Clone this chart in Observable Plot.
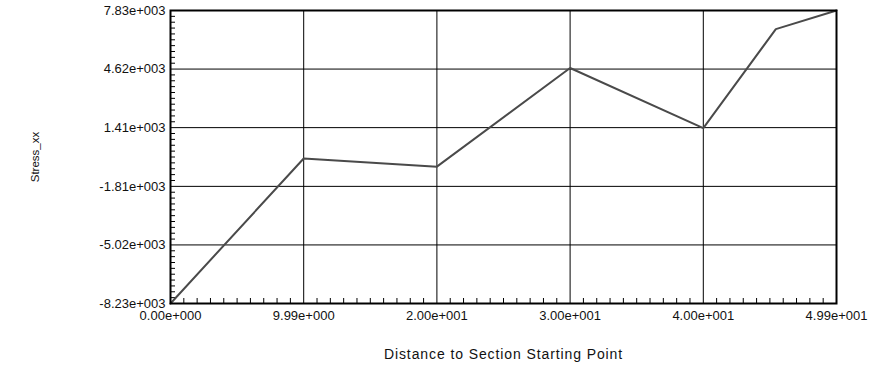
<!DOCTYPE html>
<html>
<head>
<meta charset="utf-8">
<script src="https://cdn.jsdelivr.net/npm/d3@7"></script>
<script src="https://cdn.jsdelivr.net/npm/@observablehq/plot@0.6"></script>
<style>
  html, body { margin: 0; padding: 0; background: #fff; }
  #chart svg { display: block; }
</style>
</head>
<body>
<div id="chart"></div>
<script>
// Stress_xx sampled along the section line
const distance = [0, 9.99, 19.98, 29.97, 39.96, 45.4, 49.95];
const stressXX = [-8230, -280, -730, 4680, 1380, 6810, 7830];

// Axis ticks and their printed labels
const xTickValues = [0, 9.99, 19.98, 29.97, 39.96, 49.95];
const xTickLabels = ["0.00e+000", "9.99e+000", "2.00e+001", "3.00e+001", "4.00e+001", "4.99e+001"];
const yTickValues = [-8230, -5020, -1810, 1410, 4620, 7830];
const yTickLabels = ["-8.23e+003", "-5.02e+003", "-1.81e+003", "1.41e+003", "4.62e+003", "7.83e+003"];

const xLabel = "Distance to Section Starting Point";
const yLabel = "Stress_xx";

const W = 869, H = 367;
const margin = {top: 10, right: 33, bottom: 64, left: 170};
const plotW = W - margin.left - margin.right;
const plotH = H - margin.top - margin.bottom;
const minorLen = 5;

const xDomain = [xTickValues[0], xTickValues[xTickValues.length - 1]];
const yDomain = [yTickValues[0], yTickValues[yTickValues.length - 1]];

// ten minor divisions between consecutive major ticks
function minorTicks(major) {
  const out = [];
  for (let i = 0; i < major.length - 1; i++) {
    const a = major[i], b = major[i + 1];
    for (let k = 1; k < 10; k++) out.push(a + (b - a) * k / 10);
  }
  return out;
}
const xMinor = minorTicks(xTickValues);
const yMinor = minorTicks(yTickValues);

const data = distance.map((d, i) => ({distance: d, stress: stressXX[i]}));

const fontFamily = "'Liberation Sans', Arial, Helvetica, sans-serif";

const chart = Plot.plot({
  width: W,
  height: H,
  marginTop: margin.top,
  marginRight: margin.right,
  marginBottom: margin.bottom,
  marginLeft: margin.left,
  style: {fontFamily, fontSize: "13px", color: "#111", background: "#fff", overflow: "visible"},
  x: {domain: xDomain, axis: null},
  y: {domain: yDomain, axis: null},
  marks: [
    // grid
    Plot.ruleX(xTickValues.slice(1, -1), {stroke: "#000", strokeWidth: 1}),
    Plot.ruleY(yTickValues.slice(1, -1), {stroke: "#000", strokeWidth: 1}),
    // inward minor ticks on the bottom and left edges
    Plot.tickX(xMinor, {x: d => d, stroke: "#000", strokeWidth: 1, insetTop: plotH - minorLen}),
    Plot.tickY(yMinor, {y: d => d, stroke: "#000", strokeWidth: 1, insetRight: plotW - minorLen}),
    // stress curve
    Plot.line(data, {x: "distance", y: "stress", stroke: "#4a4a4a", strokeWidth: 2, strokeLinejoin: "round"}),
    Plot.frame({stroke: "#000", strokeWidth: 2}),
    // tick labels
    Plot.axisX(xTickValues, {
      anchor: "bottom", tickSize: 0, tickPadding: 7,
      tickFormat: d => xTickLabels[xTickValues.indexOf(d)],
      fontSize: 13, fill: "#111", label: null
    }),
    Plot.axisY(yTickValues, {
      anchor: "left", tickSize: 0, tickPadding: 5,
      tickFormat: d => yTickLabels[yTickValues.indexOf(d)],
      fontSize: 13, fill: "#111", label: null
    }),
    // axis titles
    Plot.text([xLabel], {
      frameAnchor: "bottom", dy: 51, text: d => d,
      fontSize: 14, fill: "#111", lineAnchor: "middle", textAnchor: "middle"
    }),
    Plot.text([yLabel], {
      frameAnchor: "left", dx: -135, rotate: -90, text: d => d,
      fontSize: 11.5, fill: "#111", textAnchor: "middle", lineAnchor: "middle"
    })
  ]
});

// slightly wider glyph spacing for the x-axis title
chart.querySelectorAll("text").forEach(t => {
  if (t.textContent === xLabel) t.setAttribute("letter-spacing", "0.9");
});

document.getElementById("chart").appendChild(chart);
</script>
</body>
</html>
